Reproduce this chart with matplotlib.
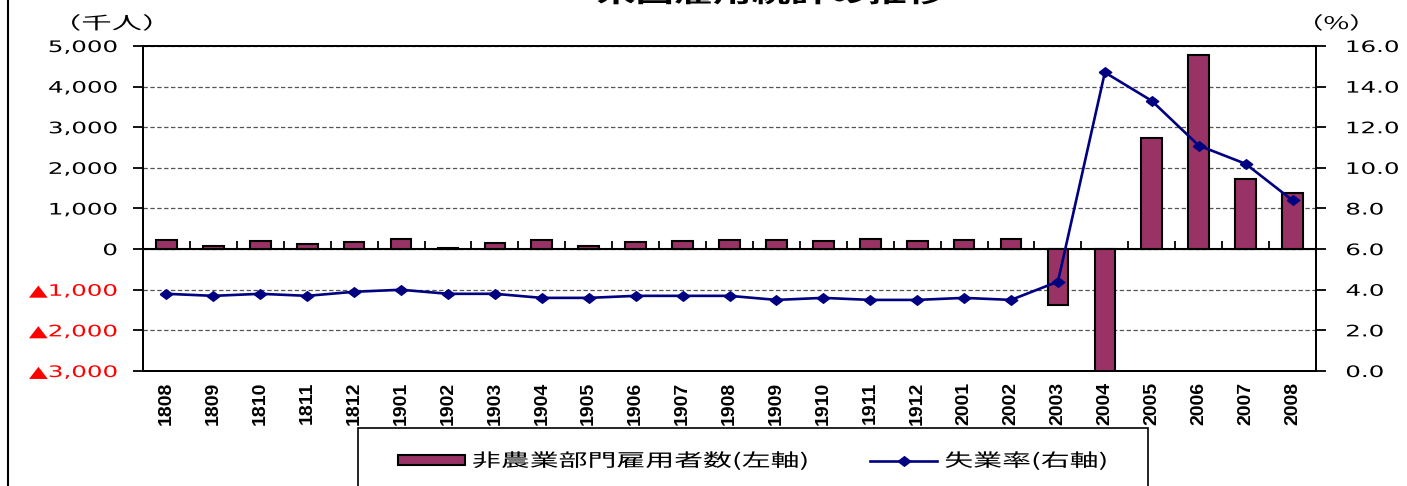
import numpy as np
import matplotlib
matplotlib.use("Agg")
import matplotlib.pyplot as plt
from matplotlib.patheffects import AbstractPathEffect
from matplotlib.transforms import Affine2D
from matplotlib.patches import Rectangle
from matplotlib.lines import Line2D

# ---- data -------------------------------------------------------------
months = ["1808", "1809", "1810", "1811", "1812",
          "1901", "1902", "1903", "1904", "1905", "1906", "1907",
          "1908", "1909", "1910", "1911", "1912",
          "2001", "2002", "2003", "2004", "2005", "2006", "2007", "2008"]

# 非農業部門雇用者数 前月差 (千人)
payrolls = [215, 80, 195, 130, 170,
            245, 20, 145, 215, 70, 180, 195,
            215, 215, 195, 240, 195,
            215, 245, -1373, -20787, 2725, 4781, 1734, 1371]

# 失業率 (%)
unemployment = [3.8, 3.7, 3.8, 3.7, 3.9,
                4.0, 3.8, 3.8, 3.6, 3.6, 3.7, 3.7,
                3.7, 3.5, 3.6, 3.5, 3.5,
                3.6, 3.5, 4.4, 14.7, 13.3, 11.1, 10.2, 8.4]

left_ticks = [5000, 4000, 3000, 2000, 1000, 0, -1000, -2000, -3000]
right_ticks = [16.0, 14.0, 12.0, 10.0, 8.0, 6.0, 4.0, 2.0, 0.0]

title = "米国雇用統計の推移"
bar_label = "非農業部門雇用者数(左軸)"
line_label = "失業率(右軸)"
left_unit = "（千人）"
right_unit = "（%）"

BAR_COLOR = "#993366"
LINE_COLOR = "#000080"
JP = ["Noto Sans CJK JP", "DejaVu Sans"]
NUM = ["DejaVu Sans"]
WIDE = 1.55


class Widen(AbstractPathEffect):
    """Draw text glyphs stretched horizontally about a chosen anchor."""

    def __init__(self, sx, anchor="left"):
        super().__init__()
        self.sx = sx
        self.anchor = anchor

    def draw_path(self, renderer, gc, tpath, affine, rgbFace=None):
        if len(tpath.vertices) == 0:
            return
        ext = tpath.get_extents()
        if self.anchor == "right":
            x0 = ext.x1
        elif self.anchor == "center":
            x0 = 0.5 * (ext.x0 + ext.x1)
        else:
            x0 = ext.x0
        stretch = Affine2D().translate(-x0, 0).scale(self.sx, 1).translate(x0, 0)
        renderer.draw_path(gc, tpath, stretch + affine, rgbFace)


def fmt_left(v):
    return ("▲{:,}".format(-v)) if v < 0 else "{:,}".format(v)


W, H = 1407, 486
fig = plt.figure(figsize=(W / 100, H / 100), dpi=100)
fig.patch.set_facecolor("white")

L, R, T, B = 143, 1316, 46, 371
ax = fig.add_axes([L / W, 1 - B / H, (R - L) / W, (B - T) / H])
x = np.arange(len(months))

bars = ax.bar(x, payrolls, width=0.44, color=BAR_COLOR, edgecolor="black",
              linewidth=1.5, zorder=3, label=bar_label)
ax.set_xlim(-0.5, len(months) - 0.5)
ax.set_ylim(min(left_ticks), max(left_ticks))
ax.set_yticks(left_ticks, labels=[fmt_left(v) for v in left_ticks])
ax.yaxis.grid(True, linestyle=(0, (3.5, 2)), color="#555555", linewidth=0.9)
ax.set_axisbelow(True)

for side in ("left", "right", "top", "bottom"):
    ax.spines[side].set_linewidth(1.3)
    ax.spines[side].set_color("black")

# category axis line at zero with boundary tick marks
ax.spines["bottom"].set_position(("data", 0))
ax.spines["bottom"].set_linewidth(1.5)
ax.set_xticks(x[:-1] + 0.5)
ax.tick_params(axis="x", direction="in", length=6, width=1.3, labelbottom=False)

# bottom frame carrying the month labels
sec = ax.secondary_xaxis(0.0)
sec.set_xticks(x, labels=months)
sec.spines["bottom"].set_linewidth(1.3)
sec.tick_params(axis="x", length=0, pad=8)
for t in sec.get_xticklabels():
    t.set_rotation(90)
    t.set_fontfamily(["Liberation Sans"])
    t.set_fontsize(14)
    t.set_fontweight("bold")
    t.set_va("top")
    t.set_ha("center")

ax.tick_params(axis="y", direction="out", length=7.5, width=1.3, pad=11)
for t, v in zip(ax.get_yticklabels(), left_ticks):
    t.set_fontfamily(NUM)
    t.set_fontsize(11.4)
    t.set_color("#FF0000" if v < 0 else "black")
    t.set_path_effects([Widen(WIDE, "right")])

# unemployment rate on the right axis
ax2 = ax.twinx()
diamond = [(-1.3, 0), (0, 1), (1.3, 0), (0, -1), (-1.3, 0)]
line, = ax2.plot(x, unemployment, color=LINE_COLOR, linewidth=1.9,
                 marker=diamond, markersize=9, markerfacecolor=LINE_COLOR,
                 markeredgecolor=LINE_COLOR, zorder=5, label=line_label)
ax2.set_ylim(min(right_ticks), max(right_ticks))
ax2.set_yticks(right_ticks, labels=["{:.1f}".format(v) for v in right_ticks])
ax2.tick_params(axis="y", direction="out", length=7.5, width=1.3, pad=14)
for side in ("left", "right", "top", "bottom"):
    ax2.spines[side].set_linewidth(1.3)
for t in ax2.get_yticklabels():
    t.set_fontfamily(NUM)
    t.set_fontsize(11.4)
    t.set_path_effects([Widen(WIDE, "left")])

# unit captions
fig.text(60 / W, 1 - 24 / H, left_unit, ha="left", va="center",
         family=JP, fontsize=12.5, path_effects=[Widen(1.75, "left")])
fig.text(1303 / W, 1 - 24 / H, right_unit, ha="left", va="center",
         family=JP, fontsize=12.5, path_effects=[Widen(1.6, "left")])

# title, partly above the top edge
fig.text(771 / W, 1 + 5 / H, title, ha="center", va="center", family=JP,
         fontsize=18, fontweight="bold", path_effects=[Widen(WIDE, "center")])

# legend
leg = fig.legend(handles=[bars, line], labels=[bar_label, line_label],
                 loc="center left", bbox_to_anchor=(398 / W, 1 - 461 / H),
                 ncol=2, frameon=False, borderpad=0, borderaxespad=0,
                 handlelength=3.7, handleheight=0.46, handletextpad=0.42,
                 columnspacing=10.4, prop={"family": JP, "size": 13})
for t in leg.get_texts():
    t.set_path_effects([Widen(1.6, "left")])
fig.add_artist(Rectangle((358 / W, -0.05), (1148 - 358) / W, 0.05 + 1 - 428 / H,
                         transform=fig.transFigure, fill=False,
                         edgecolor="black", linewidth=1.2))

# chart area outline
fig.add_artist(Line2D([8 / W, 8 / W], [0, 1], transform=fig.transFigure,
                      color="black", linewidth=1.5))

fig.savefig("out.png", dpi=100)
